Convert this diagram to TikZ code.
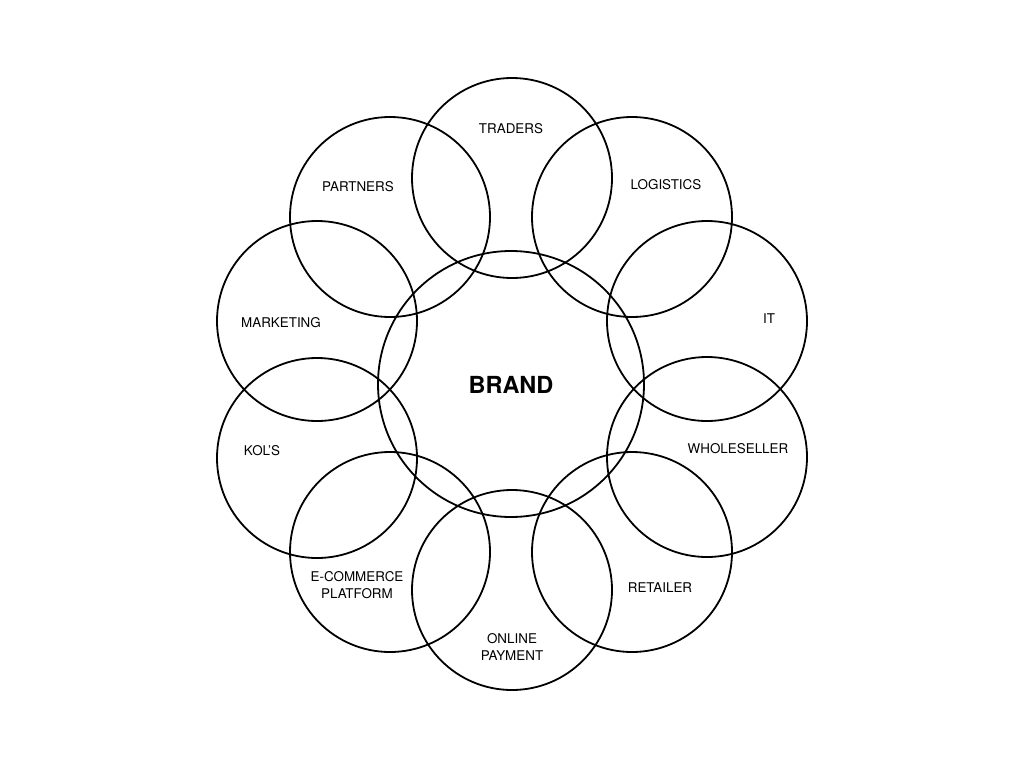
\documentclass[tikz,border=0pt]{standalone}
\usepackage{fontspec}
\setmainfont{TeX Gyre Heros}
\begin{document}
\begin{tikzpicture}[x=1pt,y=-1pt,
  ring/.style={draw=black,line width=1.8pt,circle,minimum size=200pt,inner sep=0pt},
  hub/.style={draw=black,line width=1.8pt,circle,minimum size=266pt,inner sep=0pt},
  lbl/.style={font=\fontsize{13.4}{17}\selectfont,align=center,inner sep=0pt},
  hublbl/.style={font=\fontsize{23.5}{26}\selectfont\bfseries,inner sep=0pt}]
\useasboundingbox (0,0) rectangle (1024,768);
\node[ring] (traders) at (512,178) {};
\node[ring] (logistics) at (632,217) {};
\node[ring] (it) at (707,321) {};
\node[ring] (wholeseller) at (707,457) {};
\node[ring] (retailer) at (632,552) {};
\node[ring] (payment) at (512,590) {};
\node[ring] (ecommerce) at (390,552) {};
\node[ring] (kols) at (317,458) {};
\node[ring] (marketing) at (317,321) {};
\node[ring] (partners) at (390,217) {};
\node[hub] (brand) at (511,384) {};
\node[hublbl] (tbrand) at (511,385) {BRAND};
\node[lbl] (ttraders) at (511,129) {TRADERS};
\node[lbl] (tlogistics) at (666,185) {LOGISTICS};
\node[lbl] (tit) at (769,319) {IT};
\node[lbl] (twholeseller) at (738,449) {WHOLESELLER};
\node[lbl] (tretailer) at (660,588) {RETAILER};
\node[lbl] (tpayment) at (512,647) {ONLINE\\PAYMENT};
\node[lbl] (tecommerce) at (357,585) {E-COMMERCE\\PLATFORM};
\node[lbl] (tkols) at (262,451) {KOL’S};
\node[lbl] (tmarketing) at (281,323) {MARKETING};
\node[lbl] (tpartners) at (358,187) {PARTNERS};
\end{tikzpicture}
\end{document}
